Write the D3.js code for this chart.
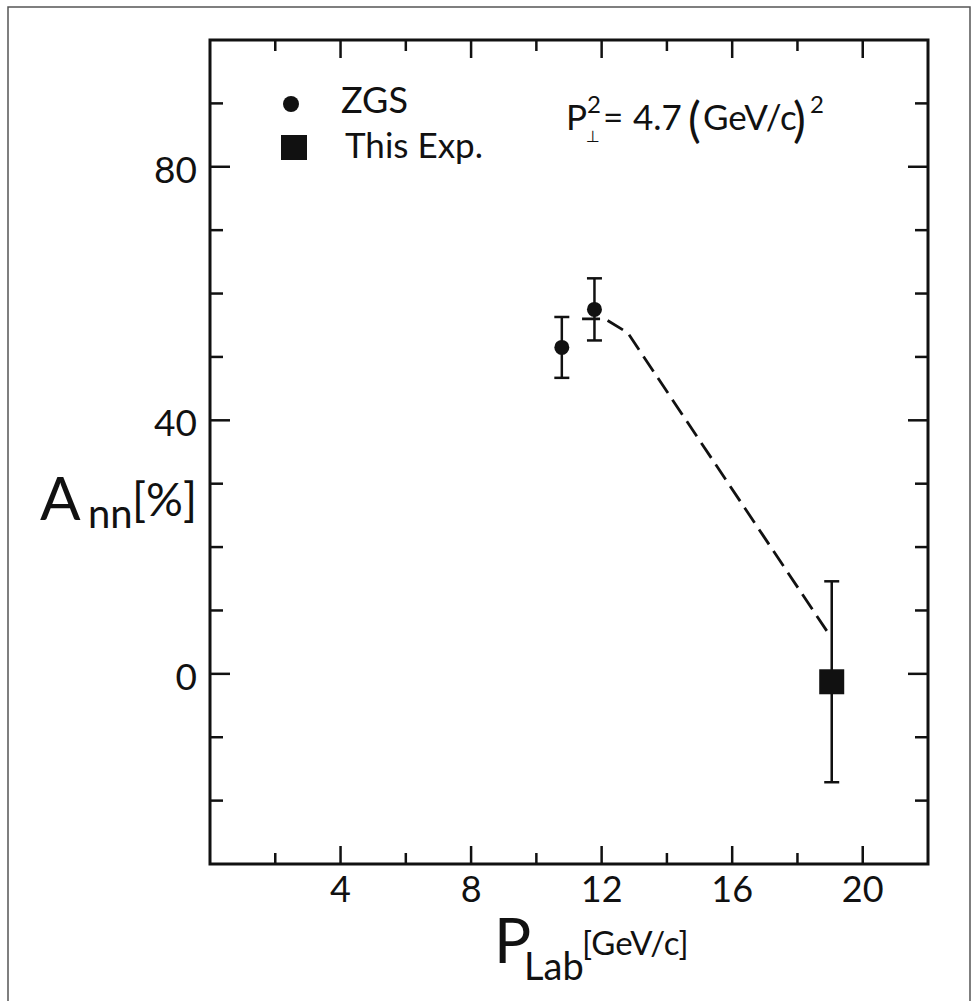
<!DOCTYPE html>
<html>
<head>
<meta charset="utf-8">
<script src="https://cdn.jsdelivr.net/npm/d3@7"></script>
<style>
  body { margin: 0; background: #fff; }
  svg text { font-family: Lato, "DejaVu Sans", sans-serif; fill: #111; }
</style>
</head>
<body>
<div id="chart"></div>
<script>
// ZGS points
var zgsP = [10.78, 11.78];
var zgsA = [51.5, 57.5];
var zgsErr = [4.8, 4.9];
// this experiment
var expP = [19.05];
var expA = [-1.25];
var expErr = [15.85];
// dashed curve
var curveP = [11.4, 12.1, 12.8, 19.0];
var curveA = [56.0, 56.0, 53.8, 6.0];
// ticks
var xTicks = [2, 4, 6, 8, 10, 12, 14, 16, 18, 20];
var xLabels = [4, 8, 12, 16, 20];
var yTicks = [-20, -10, 0, 10, 20, 30, 40, 50, 60, 70, 80, 90];
var yLabels = [0, 40, 80];

(function() {
  var W = 978, H = 1001;
  var pl = 210, pr = 928, pt = 40, pb = 864;

  var svg = d3.select('#chart').append('svg')
    .attr('width', W).attr('height', H);

  // outer page border
  svg.append('rect')
    .attr('x', 8).attr('y', 7).attr('width', 962).attr('height', 1010)
    .attr('fill', 'none').attr('stroke', '#555').attr('stroke-width', 1.5);

  var x = d3.scaleLinear().domain([0, 22]).range([pl, pr]);
  var y = d3.scaleLinear().domain([-30, 100]).range([pb, pt]);

  // frame
  svg.append('rect')
    .attr('x', pl).attr('y', pt)
    .attr('width', pr - pl).attr('height', pb - pt)
    .attr('fill', 'none').attr('stroke', '#111').attr('stroke-width', 3);

  // ticks, all pointing inward
  var xLen = function(d) { return xLabels.indexOf(d) >= 0 ? 18 : 11; };
  var yLen = function(d) { return yLabels.indexOf(d) >= 0 ? 20 : 13; };

  var tk = svg.append('g').attr('stroke', '#111').attr('stroke-width', 2.5);
  tk.selectAll('.xb').data(xTicks).enter().append('line')
    .attr('x1', d => x(d)).attr('x2', d => x(d))
    .attr('y1', pb).attr('y2', d => pb - xLen(d));
  tk.selectAll('.xt').data(xTicks).enter().append('line')
    .attr('x1', d => x(d)).attr('x2', d => x(d))
    .attr('y1', pt).attr('y2', d => pt + xLen(d));
  tk.selectAll('.yl').data(yTicks).enter().append('line')
    .attr('y1', d => y(d)).attr('y2', d => y(d))
    .attr('x1', pl).attr('x2', d => pl + yLen(d));
  tk.selectAll('.yr').data(yTicks).enter().append('line')
    .attr('y1', d => y(d)).attr('y2', d => y(d))
    .attr('x1', pr).attr('x2', d => pr - yLen(d));

  // tick labels
  svg.selectAll('.xlab').data(xLabels).enter().append('text')
    .attr('x', d => x(d)).attr('y', 902)
    .attr('text-anchor', 'middle').attr('font-size', 36)
    .text(d => d);
  svg.selectAll('.ylab').data(yLabels).enter().append('text')
    .attr('x', 197).attr('y', d => y(d) + 16)
    .attr('text-anchor', 'end').attr('font-size', 37)
    .text(d => d);

  // axis titles
  var yt = svg.append('g');
  yt.append('text').attr('x', 40).attr('y', 520).attr('font-size', 60).text('A');
  yt.append('text').attr('x', 88).attr('y', 528).attr('font-size', 40).text('nn');
  yt.append('text').attr('x', 132).attr('y', 516).attr('font-size', 46).text('[%]');

  var xt = svg.append('g');
  xt.append('text').attr('x', 494).attr('y', 963).attr('font-size', 62).text('P');
  xt.append('text').attr('x', 524).attr('y', 980).attr('font-size', 38).text('Lab');
  xt.append('text').attr('x', 582).attr('y', 955).attr('font-size', 33).text('[GeV/c]');

  // dashed curve
  var line = d3.line().x(d => x(d[0])).y(d => y(d[1]));
  svg.append('path')
    .datum(d3.zip(curveP, curveA))
    .attr('d', line)
    .attr('fill', 'none').attr('stroke', '#111')
    .attr('stroke-width', 2.8).attr('stroke-dasharray', '18,8');

  // error bars
  function errBars(P, A, E, cap) {
    var g = svg.append('g').attr('stroke', '#111').attr('stroke-width', 2.5);
    var rows = d3.range(P.length);
    g.selectAll('.v').data(rows).enter().append('line')
      .attr('x1', i => x(P[i])).attr('x2', i => x(P[i]))
      .attr('y1', i => y(A[i] + E[i])).attr('y2', i => y(A[i] - E[i]));
    [1, -1].forEach(function(s) {
      g.selectAll('.c' + (s > 0 ? 'hi' : 'lo')).data(rows).enter().append('line')
        .attr('x1', i => x(P[i]) - cap).attr('x2', i => x(P[i]) + cap)
        .attr('y1', i => y(A[i] + s * E[i])).attr('y2', i => y(A[i] + s * E[i]));
    });
  }
  errBars(zgsP, zgsA, zgsErr, 7.5);
  errBars(expP, expA, expErr, 7.5);

  svg.selectAll('.zgs').data(d3.range(zgsP.length)).enter().append('circle')
    .attr('cx', i => x(zgsP[i])).attr('cy', i => y(zgsA[i]))
    .attr('r', 7.5).attr('fill', '#111');
  svg.selectAll('.exp').data(d3.range(expP.length)).enter().append('rect')
    .attr('x', i => x(expP[i]) - 12.5).attr('y', i => y(expA[i]) - 12.5)
    .attr('width', 25).attr('height', 25).attr('fill', '#111');

  // legend
  svg.append('circle').attr('cx', 291).attr('cy', 104).attr('r', 8).attr('fill', '#111');
  svg.append('rect').attr('x', 281).attr('y', 135).attr('width', 26).attr('height', 25).attr('fill', '#111');
  svg.append('text').attr('x', 341).attr('y', 113).attr('font-size', 36).text('ZGS');
  svg.append('text').attr('x', 345).attr('y', 158).attr('font-size', 35).text('This Exp.');

  // P_perp^2 annotation
  var f = svg.append('g');
  f.append('text').attr('x', 566).attr('y', 130).attr('font-size', 35).text('P');
  f.append('text').attr('x', 586).attr('y', 142).attr('font-size', 16)
    .style('fill', '#111').style('font-family', '"DejaVu Sans"').text('\u22A5');
  f.append('text').attr('x', 587).attr('y', 113).attr('font-size', 24).text('2');
  f.append('text').attr('x', 603).attr('y', 130).attr('font-size', 35).text('=');
  f.append('text').attr('x', 633).attr('y', 130).attr('font-size', 35).text('4.7');
  f.append('text').attr('x', 688).attr('y', 137).attr('font-size', 48).text('(');
  f.append('text').attr('x', 703).attr('y', 130).attr('font-size', 35).text('GeV/c');
  f.append('text').attr('x', 793).attr('y', 137).attr('font-size', 48).text(')');
  f.append('text').attr('x', 810).attr('y', 113).attr('font-size', 24).text('2');
})();
</script>
</body>
</html>
